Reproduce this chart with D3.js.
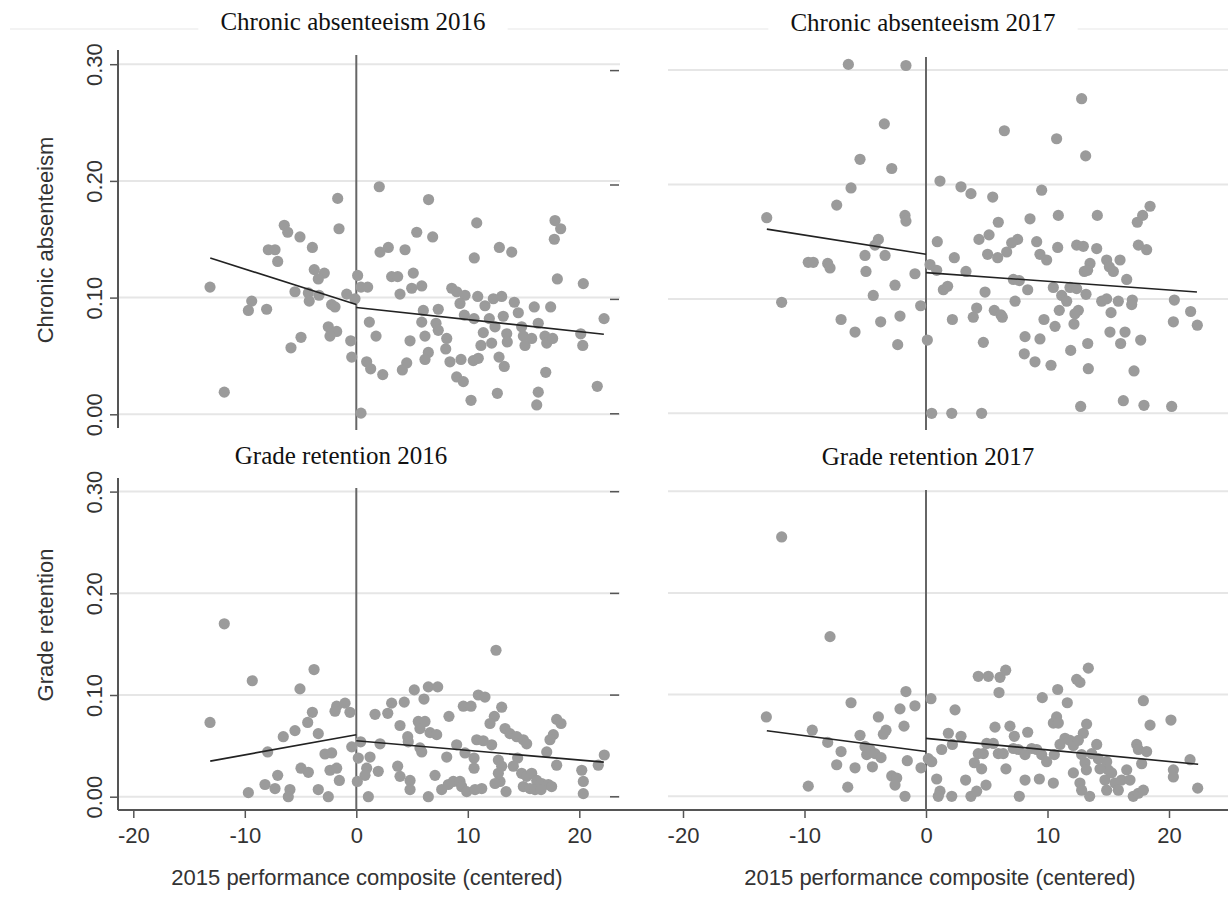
<!DOCTYPE html>
<html>
<head>
<meta charset="utf-8">
<script src="https://cdn.jsdelivr.net/npm/d3@7/dist/d3.min.js"></script>
<style>
  body { margin: 0; background: #fff; }
  svg text { font-family: "Liberation Sans", Arial, sans-serif; fill: #333; }
  svg text.title { font-family: "Liberation Serif", "Times New Roman", serif; fill: #111; }
</style>
</head>
<body>
<svg id="chart" width="1230" height="899"></svg>
<script>
// ---- data: [performance composite (centered), rate] ----
var absent2016 = [
  [2.06,0.195],[-1.67,0.185],[-1.55,0.159],[-6.46,0.162],[-6.15,0.156],[-5.05,0.152],[-3.94,0.143],
  [-7.89,0.141],[-7.29,0.141],[-7.05,0.131],[-13.12,0.109],[-3.77,0.124],[-2.87,0.121],[-3.41,0.116],
  [-5.50,0.105],[-4.30,0.104],[-4.22,0.097],[-3.35,0.102],[-2.21,0.094],[-1.91,0.092],[-0.86,0.103],
  [-0.12,0.099],[0.12,0.119],[0.42,0.109],[1.02,0.109],[-9.38,0.097],[-9.68,0.089],[-8.04,0.090],
  [-2.51,0.075],[-1.76,0.071],[-2.36,0.067],[-4.96,0.066],[-5.86,0.057],[-0.50,0.063],[-0.41,0.049],
  [1.17,0.079],[1.77,0.067],[0.93,0.045],[1.29,0.039],[2.37,0.034],[-11.84,0.019],[0.42,0.001],
  [2.13,0.139],[2.87,0.143],[3.17,0.118],
  [6.48,0.184],[10.80,0.164],[5.42,0.156],[6.85,0.152],[4.37,0.141],[12.83,0.143],[13.94,0.139],
  [10.58,0.134],[17.82,0.166],[18.33,0.159],[17.76,0.150],[18.03,0.116],[20.36,0.112],[22.22,0.082],
  [21.61,0.024],[3.71,0.118],[5.11,0.121],[3.92,0.103],[4.97,0.108],[5.87,0.110],[8.56,0.108],
  [9.00,0.105],[9.75,0.102],[10.89,0.101],[12.29,0.099],[13.04,0.101],[14.17,0.096],[14.53,0.087],
  [15.96,0.092],[17.43,0.092],[9.30,0.095],[11.54,0.093],[6.01,0.089],[7.35,0.090],[9.69,0.085],
  [10.56,0.082],[11.93,0.082],[13.18,0.084],[5.87,0.079],[7.15,0.078],[7.35,0.072],[8.11,0.065],
  [11.39,0.070],[12.44,0.075],[13.49,0.069],[13.54,0.062],[14.83,0.075],[14.98,0.067],[15.13,0.059],
  [15.73,0.065],[16.32,0.078],[16.92,0.067],[17.08,0.061],[17.61,0.065],[20.13,0.069],[20.31,0.059],
  [4.82,0.063],[6.16,0.067],[11.18,0.059],[12.14,0.061],[8.02,0.056],[6.46,0.053],[6.16,0.047],
  [4.52,0.044],[4.13,0.038],[8.40,0.045],[9.39,0.047],[10.49,0.046],[10.94,0.048],[12.80,0.049],
  [13.27,0.041],[9.00,0.032],[9.60,0.028],[10.29,0.012],[12.65,0.018],[16.32,0.019],[16.18,0.008],
  [16.99,0.036]
];

var absent2017 = [
  [-6.39,0.305],[-1.65,0.304],[-3.43,0.253],[-5.43,0.222],[-2.82,0.214],[-6.17,0.197],[-7.35,0.182],
  [-13.11,0.171],[-1.73,0.173],[-1.65,0.168],[-3.92,0.152],[-4.20,0.147],[-5.02,0.138],[-3.37,0.138],
  [-9.69,0.132],[-9.28,0.132],[-8.09,0.131],[-7.90,0.127],[-4.94,0.124],[-0.91,0.122],[-2.55,0.112],
  [-4.34,0.103],[-11.88,0.097],[-0.44,0.094],[-6.99,0.082],[-2.14,0.085],[-3.73,0.080],[-5.84,0.071],
  [-2.33,0.060],[0.11,0.064],
  [12.81,0.275],[6.45,0.247],[10.75,0.240],[13.14,0.225],[1.15,0.203],[2.88,0.198],[3.70,0.192],
  [5.49,0.189],[9.52,0.195],[18.44,0.181],[17.83,0.173],[17.39,0.167],[14.10,0.173],[10.89,0.173],
  [8.56,0.170],[5.95,0.167],[0.93,0.150],[4.36,0.152],[5.19,0.156],[7.54,0.152],[7.05,0.149],
  [6.64,0.141],[5.07,0.139],[5.90,0.136],[9.11,0.150],[9.38,0.139],[9.93,0.134],[10.84,0.145],
  [12.40,0.147],[12.95,0.146],[14.05,0.144],[14.87,0.134],[15.09,0.128],[15.42,0.124],[15.97,0.134],
  [13.50,0.131],[13.03,0.124],[13.30,0.125],[17.48,0.147],[18.16,0.143],[2.33,0.136],[0.33,0.130],
  [0.88,0.125],[3.29,0.124],[7.19,0.117],[7.68,0.116],[16.52,0.117],[10.48,0.110],[11.85,0.110],
  [12.40,0.109],[8.37,0.108],[1.43,0.108],[1.78,0.111],[4.86,0.106],[13.17,0.104],[11.17,0.103],
  [11.58,0.098],[7.33,0.098],[14.46,0.098],[14.87,0.100],[15.83,0.098],[16.98,0.099],[16.93,0.095],
  [20.44,0.099],[21.78,0.089],[22.33,0.077],[20.36,0.080],[4.17,0.092],[3.89,0.084],[5.62,0.090],
  [6.17,0.086],[6.28,0.084],[2.17,0.082],[10.97,0.090],[12.54,0.090],[12.26,0.087],[15.23,0.088],
  [9.71,0.082],[10.62,0.076],[12.18,0.078],[4.72,0.062],[8.15,0.067],[9.38,0.065],[13.31,0.061],
  [15.14,0.071],[16.38,0.071],[16.02,0.061],[17.67,0.064],[11.91,0.055],[8.09,0.052],[8.97,0.045],
  [10.29,0.042],[13.36,0.039],[17.12,0.037],[12.73,0.006],[16.24,0.011],[17.94,0.007],[20.22,0.006],
  [0.47,0.000],[2.12,0.000],[4.58,0.000]
];

var retain2016 = [
  [-11.84,0.170],[-3.79,0.125],[-9.33,0.114],[-5.05,0.106],[-13.12,0.073],[-3.94,0.083],[-4.36,0.073],
  [-5.50,0.065],[-6.55,0.059],[-3.41,0.062],[-1.76,0.089],[-1.01,0.092],[-1.91,0.084],[-0.57,0.083],
  [1.68,0.081],[2.82,0.082],[3.17,0.092],[-7.95,0.044],[-2.81,0.042],[-2.21,0.043],[-0.41,0.049],
  [0.39,0.054],[0.18,0.038],[1.23,0.039],[2.13,0.052],[-7.05,0.021],[-4.96,0.028],[-4.30,0.024],
  [-2.36,0.026],[-1.76,0.028],[-1.52,0.016],[0.93,0.028],[0.78,0.021],[1.97,0.025],[0.09,0.015],
  [-9.68,0.004],[-8.19,0.012],[-7.29,0.008],[-5.95,0.007],[-6.10,0.000],[-3.41,0.007],[-2.51,0.000],
  [1.08,0.000],
  [12.53,0.144],[5.20,0.105],[6.46,0.108],[7.30,0.108],[6.07,0.096],[4.30,0.093],[10.94,0.100],
  [11.54,0.098],[9.60,0.089],[10.29,0.089],[13.04,0.088],[8.31,0.079],[12.38,0.079],[11.99,0.072],
  [3.92,0.070],[5.56,0.074],[6.16,0.074],[5.71,0.067],[17.97,0.076],[18.36,0.072],[4.61,0.059],
  [4.66,0.054],[6.61,0.063],[7.21,0.061],[13.34,0.067],[13.78,0.062],[14.39,0.059],[14.98,0.056],
  [15.28,0.052],[17.67,0.061],[17.37,0.056],[10.80,0.056],[11.39,0.055],[12.14,0.051],[9.00,0.051],
  [5.71,0.048],[5.87,0.044],[9.75,0.043],[17.08,0.044],[22.24,0.041],[10.56,0.038],[8.11,0.039],
  [12.74,0.036],[13.04,0.030],[14.08,0.030],[14.47,0.038],[17.97,0.031],[21.70,0.031],[10.56,0.028],
  [3.71,0.030],[20.22,0.026],[20.36,0.015],[20.36,0.003],[12.74,0.023],[12.89,0.015],[12.44,0.013],
  [14.83,0.023],[15.28,0.020],[15.73,0.023],[16.18,0.016],[16.63,0.013],[17.22,0.012],[17.52,0.010],
  [14.98,0.010],[15.58,0.008],[16.03,0.007],[16.57,0.007],[3.92,0.020],[4.82,0.016],[4.82,0.007],
  [7.06,0.021],[6.46,0.000],[7.66,0.007],[8.25,0.012],[8.70,0.015],[9.30,0.015],[9.45,0.010],
  [9.90,0.005],[10.65,0.007],[11.25,0.008],[13.43,0.005]
];

var retain2017 = [
  [-11.88,0.255],[-7.90,0.157],[-1.65,0.103],[-6.17,0.092],[-0.91,0.089],[-2.14,0.086],[-13.14,0.078],
  [-3.92,0.078],[-1.81,0.069],[-3.29,0.065],[-3.51,0.061],[-9.36,0.065],[-5.43,0.060],[-8.09,0.053],
  [-6.99,0.044],[-5.02,0.049],[-4.61,0.046],[-4.88,0.041],[-4.20,0.042],[-3.70,0.038],[-1.54,0.035],
  [-7.35,0.031],[-5.84,0.028],[-4.41,0.029],[-2.82,0.020],[-2.41,0.018],[-2.55,0.011],[-0.41,0.028],
  [-9.69,0.010],[-6.44,0.009],[-1.73,0.000],
  [0.41,0.096],[4.30,0.118],[5.13,0.118],[6.09,0.117],[6.56,0.124],[6.01,0.102],[13.36,0.126],
  [12.40,0.115],[12.67,0.112],[10.84,0.105],[9.57,0.097],[11.63,0.092],[17.89,0.094],[2.39,0.085],
  [10.75,0.078],[10.48,0.072],[10.89,0.072],[20.16,0.075],[13.22,0.071],[18.44,0.070],[5.68,0.068],
  [6.91,0.069],[1.84,0.062],[2.88,0.059],[7.27,0.059],[8.37,0.063],[12.95,0.062],[11.44,0.057],
  [11.85,0.055],[12.13,0.050],[12.54,0.055],[11.03,0.051],[14.05,0.051],[17.34,0.051],[5.00,0.052],
  [5.54,0.052],[2.17,0.051],[1.29,0.046],[4.30,0.042],[4.72,0.042],[5.95,0.042],[6.36,0.042],
  [7.19,0.047],[7.60,0.046],[8.15,0.041],[8.70,0.047],[9.11,0.046],[9.52,0.041],[9.93,0.034],
  [10.56,0.041],[12.81,0.041],[13.09,0.033],[13.64,0.042],[14.18,0.037],[14.87,0.034],[15.00,0.026],
  [17.48,0.046],[18.16,0.044],[17.75,0.032],[21.73,0.036],[20.36,0.026],[20.36,0.019],[22.36,0.008],
  [0.19,0.037],[0.47,0.034],[3.98,0.033],[4.58,0.027],[6.58,0.027],[8.15,0.016],[9.33,0.017],
  [10.48,0.013],[0.88,0.017],[3.26,0.016],[4.94,0.011],[1.15,0.005],[1.01,0.000],[2.12,0.000],
  [3.70,0.000],[4.17,0.005],[7.68,0.000],[12.13,0.023],[12.67,0.013],[12.81,0.006],[13.47,0.000],
  [13.20,0.026],[14.32,0.027],[14.73,0.016],[14.87,0.006],[15.28,0.023],[15.56,0.013],[15.83,0.006],
  [16.10,0.016],[16.52,0.026],[16.79,0.016],[17.06,0.000],[17.48,0.003],[17.89,0.006]
];

// fitted lines, one segment each side of the cutoff
var absentFit2016 = [[[-13.1,0.134],[0,0.094]], [[0,0.0915],[22.2,0.0686]]];
var absentFit2017 = [[[-13.1,0.161],[0,0.139]], [[0,0.123],[22.3,0.106]]];
var retainFit2016 = [[[-13.1,0.035],[0,0.061]], [[0,0.055],[22.2,0.034]]];
var retainFit2017 = [[[-13.1,0.0645],[0,0.044]], [[0,0.057],[22.4,0.0315]]];

var xTicks = [-20, -10, 0, 10, 20];
var yTicks = [0, 0.1, 0.2, 0.3];

var titles = ["Chronic absenteeism 2016", "Chronic absenteeism 2017", "Grade retention 2016", "Grade retention 2017"];
var yTitles = ["Chronic absenteeism", "Grade retention"];
var xTitle = "2015 performance composite (centered)";

// ---- layout of the four graphs ----
var panels = [
  { data: absent2016, fit: absentFit2016, title: titles[0], titleX: 353, titleY: 30,
    xr: [133.3, 579.3], yr: [414.3, 64.2], left: 118, right: 620, zeroTop: 55, zeroBot: 430,
    yAxis: { x: 118, top: 50, bottom: 428, title: yTitles[0], titleY: 240 }, topLine: true },
  { data: absent2017, fit: absentFit2017, title: titles[1], titleX: 923, titleY: 31,
    xr: [683, 1169], yr: [413.3, 70.1], left: 668, right: 1228, zeroTop: 57, zeroBot: 430,
    stub: 619, topLine: true },
  { data: retain2016, fit: retainFit2016, title: titles[2], titleX: 341, titleY: 464,
    xr: [133.3, 579.3], yr: [796.7, 491.6], left: 118, right: 620, zeroTop: 488, zeroBot: 810,
    yAxis: { x: 118, top: 478, bottom: 810, title: yTitles[1], titleY: 625 },
    xAxis: { y: 810, from: 118, titleX: 367 } },
  { data: retain2017, fit: retainFit2017, title: titles[3], titleX: 928, titleY: 465,
    xr: [683, 1169], yr: [796.3, 491.2], left: 668, right: 1228, zeroTop: 490, zeroBot: 810,
    stub: 619, xAxis: { y: 810, from: 610, titleX: 940 } }
];

var svg = d3.select("#chart");

panels.forEach(function(p) {
  var x = d3.scaleLinear().domain([-20, 20]).range(p.xr);
  var y = d3.scaleLinear().domain([0, 0.3]).range(p.yr);
  var g = svg.append("g");

  // faint border line behind the title
  if (p.topLine) {
    g.append("line")
      .attr("x1", p.left - 108).attr("x2", p.right)
      .attr("y1", 29).attr("y2", 29)
      .attr("stroke", "#efefef").attr("stroke-width", 1.5);
  }

  // horizontal grid
  g.selectAll(".grid")
    .data(yTicks)
    .enter()
    .append("line")
    .attr("x1", p.left).attr("x2", p.right)
    .attr("y1", d => y(d)).attr("y2", d => y(d))
    .attr("stroke", "#e6e6e6").attr("stroke-width", 2);

  // y axis with rotated labels
  if (p.yAxis) {
    var ya = g.append("g")
      .attr("transform", `translate(${p.yAxis.x},0)`)
      .call(d3.axisLeft(y).tickValues(yTicks).tickSize(8).tickFormat(d3.format(".2f")));
    ya.select(".domain").remove();
    ya.selectAll(".tick line").attr("stroke", "#555").attr("stroke-width", 1.5);
    ya.selectAll(".tick text")
      .attr("x", null).attr("dy", null)
      .attr("text-anchor", "middle")
      .attr("transform", "translate(-16,0) rotate(-90)")
      .style("font-size", "22px").style("fill", "#333");
    g.append("line")
      .attr("x1", p.yAxis.x).attr("x2", p.yAxis.x)
      .attr("y1", p.yAxis.top).attr("y2", p.yAxis.bottom)
      .attr("stroke", "#555").attr("stroke-width", 2);
    g.append("text")
      .attr("transform", `translate(53,${p.yAxis.titleY}) rotate(-90)`)
      .attr("text-anchor", "middle")
      .style("font-size", "22px")
      .text(p.yAxis.title);
  }

  // cut-off y axis of the right-hand graphs: only the tick stubs show
  if (p.stub) {
    var sa = g.append("g")
      .attr("transform", `translate(${p.stub},0)`)
      .call(d3.axisLeft(y).tickValues(yTicks).tickSize(9).tickFormat(""));
    sa.select(".domain").remove();
    sa.selectAll(".tick line").attr("stroke", "#555").attr("stroke-width", 1.5);
  }

  // x axis (bottom graphs only)
  if (p.xAxis) {
    var xa = g.append("g")
      .attr("transform", `translate(0,${p.xAxis.y})`)
      .call(d3.axisBottom(x).tickValues(xTicks).tickSize(8).tickFormat(d => String(d)));
    xa.select(".domain").remove();
    xa.selectAll(".tick line").attr("stroke", "#555").attr("stroke-width", 1.5);
    xa.selectAll(".tick text")
      .attr("y", 33).attr("dy", null)
      .style("font-size", "22px").style("fill", "#333");
    g.append("line")
      .attr("x1", p.xAxis.from).attr("x2", p.right)
      .attr("y1", p.xAxis.y).attr("y2", p.xAxis.y)
      .attr("stroke", "#555").attr("stroke-width", 2);
    g.append("text")
      .attr("x", p.xAxis.titleX).attr("y", 885)
      .attr("text-anchor", "middle")
      .style("font-size", "22px")
      .text(xTitle);
  }

  // cutoff line at zero
  g.append("line")
    .attr("x1", x(0)).attr("x2", x(0))
    .attr("y1", p.zeroTop).attr("y2", p.zeroBot)
    .attr("stroke", "#666").attr("stroke-width", 2);

  // schools
  g.selectAll("circle")
    .data(p.data)
    .enter()
    .append("circle")
    .attr("cx", d => x(d[0]))
    .attr("cy", d => y(d[1]))
    .attr("r", 5.6)
    .attr("fill", "#9b9b9b");

  // fitted lines
  var line = d3.line().x(d => x(d[0])).y(d => y(d[1]));
  g.selectAll(".fit")
    .data(p.fit)
    .enter()
    .append("path")
    .attr("d", line)
    .attr("fill", "none")
    .attr("stroke", "#222")
    .attr("stroke-width", 1.6);

  // title, on a white patch that breaks the faint border line
  var t = g.append("text")
    .attr("class", "title")
    .attr("x", p.titleX).attr("y", p.titleY)
    .attr("text-anchor", "middle")
    .style("font-size", "25px")
    .text(p.title);
  if (p.topLine) {
    var bb = t.node().getBBox();
    g.insert("rect", "text.title")
      .attr("x", bb.x - 22).attr("y", bb.y)
      .attr("width", bb.width + 44).attr("height", bb.height)
      .attr("fill", "#fff");
  }
});
</script>
</body>
</html>
